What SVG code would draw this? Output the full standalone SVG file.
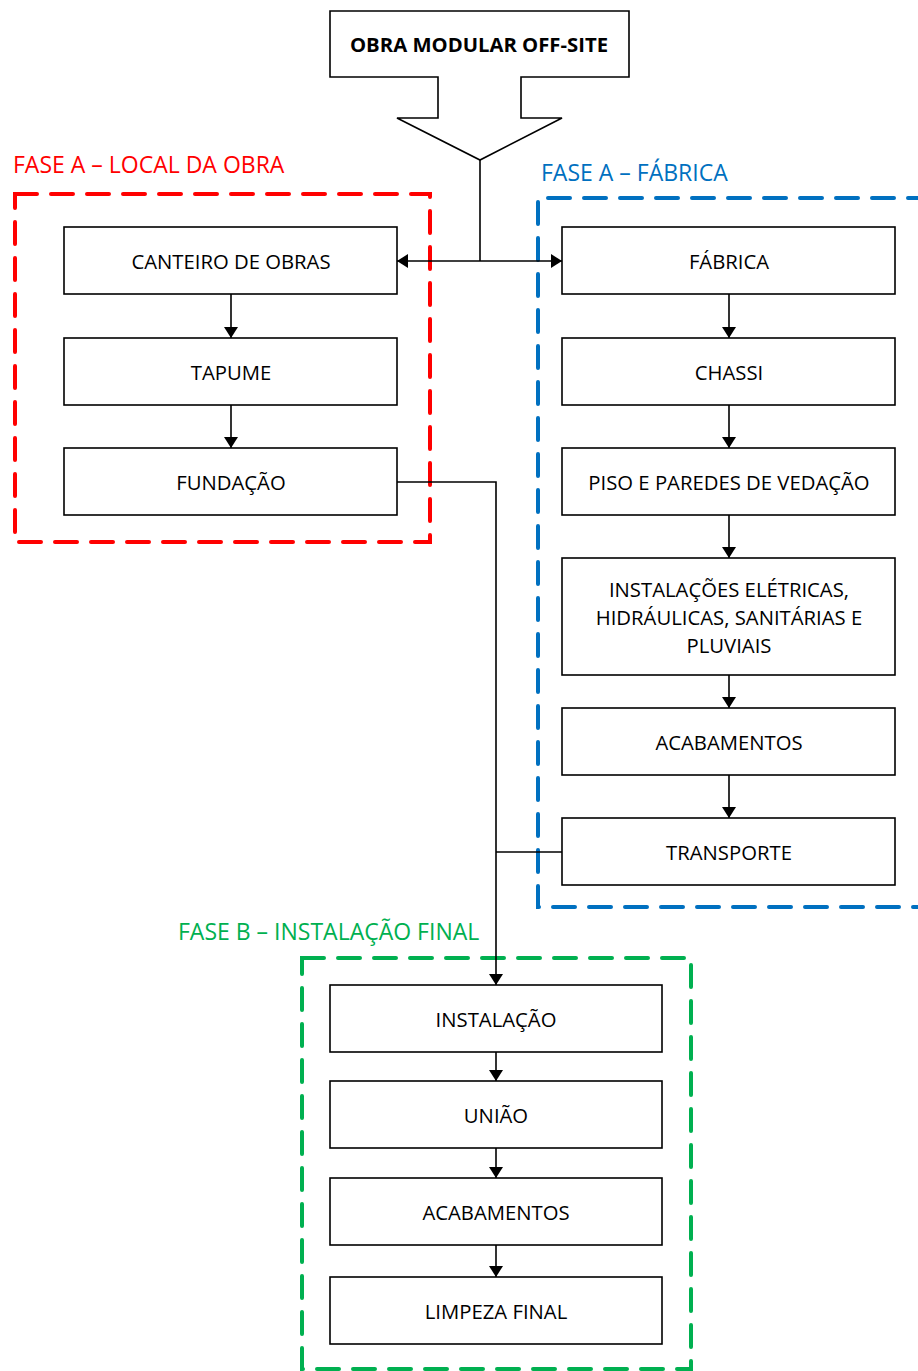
<svg xmlns="http://www.w3.org/2000/svg" width="918" height="1371" viewBox="0 0 918 1371">
<style>
.box{fill:#fff;stroke:#000;stroke-width:1.6}
.t{font-family:"Open Sans","Noto Sans",sans-serif;font-size:20.3px;fill:#000;text-anchor:middle;dominant-baseline:central}
.lbl{font-family:"Open Sans","Noto Sans",sans-serif;font-size:23px}
.ln{fill:none;stroke:#000;stroke-width:1.6}
.dash{fill:none;stroke-width:4;stroke-dasharray:22 14;stroke-linecap:round}
</style>
<defs>
<marker id="ah" viewBox="0 0 11 14" refX="11" refY="7" markerWidth="11" markerHeight="14" markerUnits="userSpaceOnUse" orient="auto-start-reverse">
<path d="M0,0 L11,7 L0,14 Z" fill="#000"/>
</marker>
</defs>
<rect width="918" height="1371" fill="#fff"/>

<g id="fase-a-local">
<rect class="dash" x="15" y="194" width="415" height="348" stroke="#FF0000"/>
<text class="lbl" x="13" y="173" fill="#FF0000">FASE A – LOCAL DA OBRA</text>
</g>
<g id="fase-a-fabrica">
<path class="dash" d="M930,198 H538 V907 H930" stroke="#0070C0"/>
<text class="lbl" x="541" y="181" fill="#0070C0">FASE A – FÁBRICA</text>
</g>
<g id="fase-b">
<rect class="dash" x="302" y="958" width="389" height="411" stroke="#00B050"/>
<text class="lbl" x="178" y="940" fill="#00B050">FASE B – INSTALAÇÃO FINAL</text>
</g>

<g id="connectors">
<line class="ln" x1="480" y1="160" x2="480" y2="261"/>
<line class="ln" x1="480" y1="261" x2="397" y2="261" marker-end="url(#ah)"/>
<line class="ln" x1="480" y1="261" x2="562" y2="261" marker-end="url(#ah)"/>
<line class="ln" x1="231" y1="294" x2="231" y2="338" marker-end="url(#ah)"/>
<line class="ln" x1="231" y1="405" x2="231" y2="448" marker-end="url(#ah)"/>
<line class="ln" x1="729" y1="294" x2="729" y2="338" marker-end="url(#ah)"/>
<line class="ln" x1="729" y1="405" x2="729" y2="448" marker-end="url(#ah)"/>
<line class="ln" x1="729" y1="515" x2="729" y2="558" marker-end="url(#ah)"/>
<line class="ln" x1="729" y1="675" x2="729" y2="708" marker-end="url(#ah)"/>
<line class="ln" x1="729" y1="775" x2="729" y2="818" marker-end="url(#ah)"/>
<path class="ln" d="M397,482 H496 V985" marker-end="url(#ah)"/>
<line class="ln" x1="562" y1="852" x2="496" y2="852"/>
<line class="ln" x1="496" y1="1052" x2="496" y2="1081" marker-end="url(#ah)"/>
<line class="ln" x1="496" y1="1148" x2="496" y2="1178" marker-end="url(#ah)"/>
<line class="ln" x1="496" y1="1245" x2="496" y2="1277" marker-end="url(#ah)"/>
</g>

<g id="obra-modular">
<path class="box" d="M330,11 H629 V77 H521 V118 H562 L480,160 L397,118 H438 V77 H330 Z"/>
<text class="t" x="479" y="44" font-weight="bold" font-size="20">OBRA MODULAR OFF-SITE</text>
</g>

<g id="canteiro"><rect class="box" x="64" y="227" width="333" height="67"/><text class="t" x="231" y="261">CANTEIRO DE OBRAS</text></g>
<g id="tapume"><rect class="box" x="64" y="338" width="333" height="67"/><text class="t" x="231" y="372">TAPUME</text></g>
<g id="fundacao"><rect class="box" x="64" y="448" width="333" height="67"/><text class="t" x="231" y="482">FUNDAÇÃO</text></g>

<g id="fabrica"><rect class="box" x="562" y="227" width="333" height="67"/><text class="t" x="729" y="261">FÁBRICA</text></g>
<g id="chassi"><rect class="box" x="562" y="338" width="333" height="67"/><text class="t" x="729" y="372">CHASSI</text></g>
<g id="piso"><rect class="box" x="562" y="448" width="333" height="67"/><text class="t" x="729" y="482">PISO E PAREDES DE VEDAÇÃO</text></g>
<g id="instalacoes"><rect class="box" x="562" y="558" width="333" height="117"/>
<text class="t" x="729" y="589">INSTALAÇÕES ELÉTRICAS,</text>
<text class="t" x="729" y="617">HIDRÁULICAS, SANITÁRIAS E</text>
<text class="t" x="729" y="645">PLUVIAIS</text></g>
<g id="acabamentos-a"><rect class="box" x="562" y="708" width="333" height="67"/><text class="t" x="729" y="742">ACABAMENTOS</text></g>
<g id="transporte"><rect class="box" x="562" y="818" width="333" height="67"/><text class="t" x="729" y="852">TRANSPORTE</text></g>

<g id="instalacao"><rect class="box" x="330" y="985" width="332" height="67"/><text class="t" x="496" y="1019">INSTALAÇÃO</text></g>
<g id="uniao"><rect class="box" x="330" y="1081" width="332" height="67"/><text class="t" x="496" y="1115">UNIÃO</text></g>
<g id="acabamentos-b"><rect class="box" x="330" y="1178" width="332" height="67"/><text class="t" x="496" y="1212">ACABAMENTOS</text></g>
<g id="limpeza"><rect class="box" x="330" y="1277" width="332" height="67"/><text class="t" x="496" y="1311">LIMPEZA FINAL</text></g>
</svg>
